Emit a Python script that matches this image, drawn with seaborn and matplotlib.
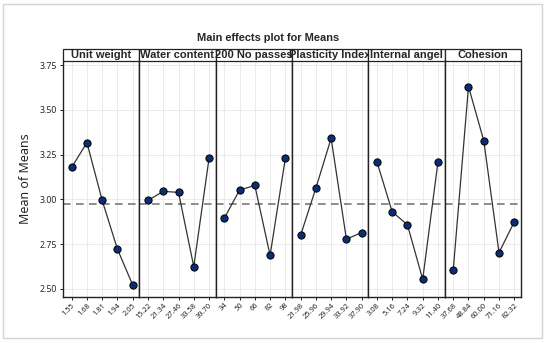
#!/usr/bin/env python3
"""
Main effects plot for Means - 6 fatores, 5 níveis cada.
"""
import pandas as pd
import seaborn as sns
import matplotlib.pyplot as plt
from matplotlib.patches import Rectangle

# fatores e níveis
factors = ["Unit weight", "Water content", "200 No passes",
           "Plasticity Index", "Internal angel", "Cohesion"]

unit_weight_levels = ["1.55", "1.68", "1.81", "1.94", "2.05"]
water_content_levels = ["15.22", "21.34", "27.46", "33.58", "39.70"]
no200_levels = ["34", "50", "66", "82", "98"]
plasticity_levels = ["21.98", "25.96", "29.94", "33.92", "37.90"]
internal_angel_levels = ["3.08", "5.16", "7.24", "9.32", "11.40"]
cohesion_levels = ["37.68", "48.84", "60.00", "71.16", "82.32"]

# médias
unit_weight_means = [3.179, 3.317, 2.994, 2.722, 2.522]
water_content_means = [2.994, 3.045, 3.039, 2.625, 3.229]
no200_means = [2.895, 3.052, 3.078, 2.688, 3.229]
plasticity_means = [2.800, 3.063, 3.341, 2.778, 2.815]
internal_angel_means = [3.210, 2.931, 2.858, 2.554, 3.210]
cohesion_means = [2.605, 3.630, 3.328, 2.703, 2.875]

grand_mean = 2.975
y_ticks = [2.50, 2.75, 3.00, 3.25, 3.50, 3.75]

levels = [unit_weight_levels, water_content_levels, no200_levels,
          plasticity_levels, internal_angel_levels, cohesion_levels]
means = [unit_weight_means, water_content_means, no200_means,
         plasticity_means, internal_angel_means, cohesion_means]

sns.set_style("whitegrid", {"grid.color": "#ebebeb", "axes.edgecolor": "#222222"})
plt.rcParams['font.family'] = ['Noto Sans', 'DejaVu Sans']

fig, axes = plt.subplots(1, 6, sharey=True, figsize=(5.5, 3.43), dpi=100)
fig.subplots_adjust(left=0.1145, right=0.947, bottom=0.135, top=0.823, wspace=0)

for i, (ax, name, lv, mv) in enumerate(zip(axes, factors, levels, means)):
    df = pd.DataFrame({"level": lv, "mean": mv})
    sns.pointplot(data=df, x="level", y="mean", ax=ax, color="#333333",
                  markers="o", markersize=5.2, linewidth=0.9,
                  markerfacecolor="#0b2d78", markeredgecolor="black",
                  markeredgewidth=0.7)
    ax.axhline(grand_mean, ls=(0, (5, 3.5)), color="#6e6e6e", lw=1.1, zorder=1)
    ax.set_xlim(-0.57, 4.43)
    ax.set_ylim(2.457, 3.774)
    ax.set_xlabel("")
    ax.set_ylabel("")
    ax.grid(True, color="#ebebeb", lw=0.7)
    for s in ["left", "right", "bottom"]:
        ax.spines[s].set_visible(True)
        ax.spines[s].set_color("#222222")
        ax.spines[s].set_linewidth(1.0)
    ax.spines["top"].set_visible(False)
    ax.tick_params(axis="x", labelsize=5.4, rotation=45, length=2.5,
                   width=0.7, color="#222222", pad=1, bottom=True)
    for lab in ax.get_xticklabels():
        lab.set_ha("right")
        lab.set_rotation_mode("anchor")
    if i == 0:
        ax.set_yticks(y_ticks)
        ax.set_yticklabels([f"{t:.2f}" for t in y_ticks])
        ax.tick_params(axis="y", labelsize=6.3, length=2.5, width=0.7,
                       color="#222222", pad=1.5, left=True)
    else:
        ax.tick_params(axis="y", left=False, labelleft=False)
    # faixa com nome do fator
    ax.add_patch(Rectangle((0, 1), 1, 0.048, transform=ax.transAxes,
                           clip_on=False, fc="white", ec="#222222", lw=0.9))
    ax.text(0.5, 1.024, name, transform=ax.transAxes, ha="center", va="center",
            fontsize=8, fontweight="bold", family=["Liberation Sans", "DejaVu Sans"])

axes[0].set_ylabel("Mean of Means", fontsize=9, labelpad=6)
fig.text(0.487, 0.89, "Main effects plot for Means", ha="center", va="center",
         fontsize=7.9, fontweight="bold", family=["Liberation Sans", "DejaVu Sans"])

# moldura cinza externa
fig.patches.append(Rectangle((0.006, 0.014), 0.979, 0.974, transform=fig.transFigure,
                             fill=False, ec="#d3d3d3", lw=1.0))

plt.savefig("out.png", dpi=100)
plt.close()
